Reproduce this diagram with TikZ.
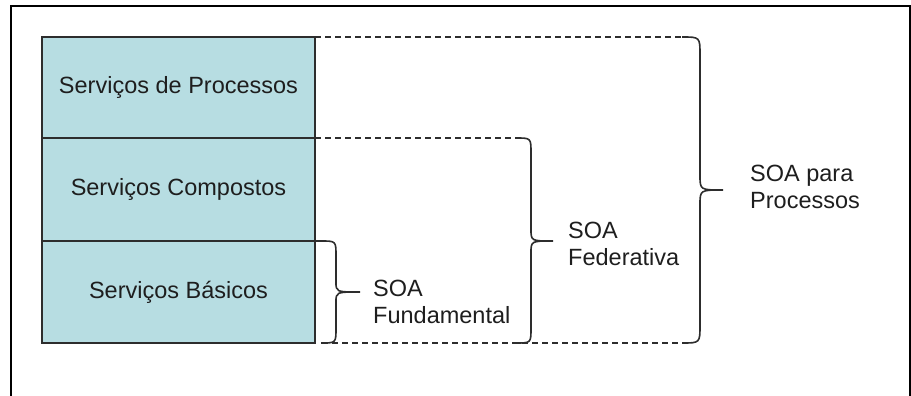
\documentclass[tikz,border=0pt]{standalone}
\usepackage{fontspec}
\setmainfont{Liberation Sans}
\definecolor{boxfill}{RGB}{183,221,226}
\definecolor{linegray}{RGB}{45,45,45}
\definecolor{txt}{RGB}{30,30,30}
\begin{document}
\begin{tikzpicture}[x=1pt,y=-1pt,
  layerbox/.style={draw=linegray, line width=2pt, fill=boxfill, inner sep=0pt, outer sep=0pt,
    minimum width=273pt, anchor=north west, font=\fontsize{23.5}{27}\selectfont, text=txt},
  bracelin/.style={draw=linegray, line width=1.6pt, line join=round},
  dashlin/.style={draw=linegray, line width=1.6pt, dash pattern=on 6pt off 4pt},
  lbl/.style={anchor=west, align=left, inner sep=0pt, font=\fontsize{23.5}{27}\selectfont, text=txt}]
\useasboundingbox (0,0) rectangle (911,396);
% frame
\draw[line width=2pt] (11,396) -- (11,6) -- (910,6) -- (910,396);
% layer boxes
\node[layerbox, minimum height=101pt] (proc) at (42,37) {Serviços de Processos};
\node[layerbox, minimum height=103pt] (comp) at (proc.south west) {Serviços Compostos};
\node[layerbox, minimum height=102pt] (basic) at (comp.south west) {Serviços Básicos};
% labels
\node[lbl] (fund) at (373,302) {SOA\\Fundamental};
\node[lbl] (fed) at (568,243.5) {SOA\\Federativa};
\node[lbl] (para) at (750,186.5) {SOA para\\Processos};
% helper coordinates
\coordinate (tipF) at (360,292);
\coordinate (tipD) at (553,241);
\coordinate (tipP) at (723,190);
% dashed lines
\draw[dashlin] (proc.north east) -- (682,37);
\draw[dashlin] (comp.north east) -- (516,138);
\draw[dashlin] (322,343) -- (682,343);
% small brace (SOA Fundamental)
\draw[bracelin] (basic.north east) -- (321,241) .. controls (336,241) .. (336,256)
  -- (336,282) .. controls (336,292) .. (tipF)
  (tipF) .. controls (336,292) .. (336,302) -- (336,328) .. controls (336,343) .. (321,343);
% middle brace (SOA Federativa)
\draw[bracelin] (516,138) .. controls (531,138) .. (531,153)
  -- (531,229) .. controls (531,241) .. (tipD)
  (tipD) .. controls (531,241) .. (531,253) -- (531,328) .. controls (531,343) .. (516,343);
% big brace (SOA para Processos)
\draw[bracelin] (682,37) .. controls (700,37) .. (700,55)
  -- (700,175) .. controls (700,190) .. (tipP)
  (tipP) .. controls (700,190) .. (700,205) -- (700,325) .. controls (700,343) .. (682,343);
\end{tikzpicture}
\end{document}
